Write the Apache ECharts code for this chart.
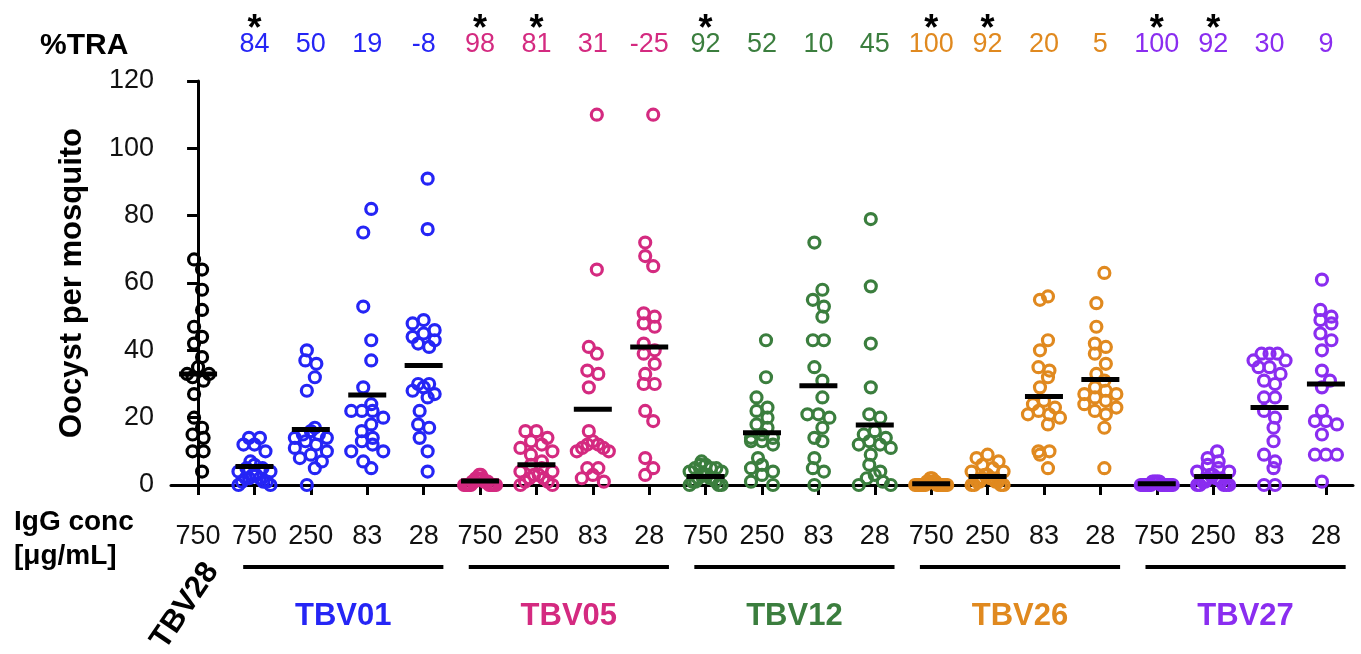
<!DOCTYPE html>
<html><head><meta charset="utf-8">
<script src="https://cdn.jsdelivr.net/npm/echarts@6/dist/echarts.min.js"></script>
<style>html,body{margin:0;padding:0;background:#fff}#c{width:1361px;height:654px}</style>
</head><body><div id="c"></div>
<script>
// ---------- data ----------
const concLabels = ['750','750','250','83','28','750','250','83','28','750','250','83','28','750','250','83','28','750','250','83','28'];
const groupNames = ['TBV28','TBV01','TBV05','TBV12','TBV26','TBV27'];
const groupColors = ['#000000','#2525f5','#d42a80','#3b7e3e','#e0891f','#8a2df0'];
const groupOf = [0,1,1,1,1,2,2,2,2,3,3,3,3,4,4,4,4,5,5,5,5];
const traValues = [null,84,50,19,-8,98,81,31,-25,92,52,10,45,100,92,20,5,100,92,30,9];
const significant = [0,1,0,0,0,1,1,0,0,1,0,0,0,1,1,0,0,1,1,0,0];

const tbv28 = [
  [67,64,58,52,47,44,42,38,35,33,33,32,31,27,20,17,15,14,10,10,4]
];
const tbv01 = [
  [14,14,12,12,10,7,6,5,5,4,4,3,3,2,2,2,1,1,1,0,0],
  [40,37,36,32,28,17,16,15,15,14,14,13,12,11,10,9,8,7,5,0],
  [82,75,53,43,37,29,24,22,22,22,20,18,16,14,13,12,10,10,7,5],
  [91,76,49,48,46,45,44,43,42,41,30,30,29,28,27,26,22,18,17,14,10,4]
];
const tbv05 = [
  [3,3,2,2,2,1,1,1,1,1,0,0,0,0,0,0,0,0,0,0],
  [16,16,14,13,12,11,10,9,7,6,5,4,4,3,3,2,2,1,1,0,0],
  [110,64,41,39,34,33,29,16,13,12,12,11,11,10,10,5,5,3,2,1],
  [110,72,68,65,51,50,48,47,42,40,39,36,33,30,30,22,19,8,5,3]
];
const tbv12 = [
  [7,6,6,5,5,5,4,4,3,3,3,2,2,2,1,1,1,0,0,0],
  [43,32,26,23,22,20,18,17,15,14,14,13,13,12,8,6,5,4,3,1,0],
  [72,58,55,53,50,43,43,35,31,26,21,21,20,17,14,13,8,5,4,0],
  [79,59,42,29,21,20,16,15,14,13,12,12,11,9,6,4,3,2,1,0,0]
];
const tbv26 = [
  [2,2,1,1,1,1,0,0,0,0,0,0,0,0,0,0,0,0,0,0],
  [9,8,7,6,5,4,4,3,3,2,2,2,1,1,1,1,0,0,0,0],
  [56,55,43,40,35,34,32,29,25,24,23,22,21,21,20,18,10,10,9,5],
  [63,54,47,42,41,39,36,33,31,29,28,27,27,26,25,24,23,22,21,17,5]
];
const tbv27 = [
  [1,1,1,1,1,0,0,0,0,0,0,0,0,0,0,0,0,0,0,0],
  [10,8,7,6,5,4,4,3,3,2,2,2,1,1,1,0,0,0,0,0],
  [39,39,39,37,37,35,35,33,31,30,26,26,22,20,17,13,9,7,5,0,0],
  [61,52,50,49,48,45,43,40,34,31,29,22,19,19,18,15,9,9,9,1]
];
const meanValues = [33,5.5,16.5,26.7,35.5,1.2,6,22.5,41,2.5,15.5,29.5,17.8,0.4,2.5,26.3,31.3,0.4,2.5,23,30];

// ---------- layout ----------
const FONT = '"Liberation Sans", Arial, Helvetica, sans-serif';
const GL = 171, GR = 8, GT = 81, GB = 169, W = 1361, H = 654;
const XMIN = -0.48, XMAX = 20.48;
const pxX = (W - GL - GR) / (XMAX - XMIN);
const pxY = (H - GT - GB) / 120;

// scatter-dot-plot layout: points binned into rows; rows filled centre-out (deterministic)
function swarm(values) {
  const ROW = 11, GAP = 11, HALF = 16;
  const rows = {};
  values.forEach((v, k) => {
    const b = Math.floor(v * pxY / ROW);
    (rows[b] = rows[b] || []).push(k);
  });
  const offs = new Array(values.length).fill(0);
  Object.keys(rows).forEach(bk => {
    const idx = rows[bk].slice().sort((a, b) => values[b] - values[a]);
    const n = idx.length;
    if (n === 1) { offs[idx[0]] = ((+bk) % 2 ? 4 : -4) / pxX; return; }
    const step = Math.min(GAP, 2 * HALF / (n - 1));
    const slots = [];
    for (let j = 0; j < n; j++) slots.push((j - (n - 1) / 2) * step);
    slots.sort((a, b) => Math.abs(a) - Math.abs(b) || a - b);
    idx.forEach((k, j) => { offs[k] = slots[j] / pxX; });
  });
  return offs;
}

const allGroups = [tbv28, tbv01, tbv05, tbv12, tbv26, tbv27];
const series = [];
let cat = 0;
allGroups.forEach((g, gi) => {
  const data = [];
  g.forEach(vals => {
    const offs = swarm(vals);
    vals.forEach((v, k) => data.push([cat + offs[k], v]));
    cat++;
  });
  series.push({
    type: 'scatter', name: groupNames[gi], data,
    symbol: 'circle', symbolSize: 11,
    itemStyle: { color: 'rgba(255,255,255,0)', borderColor: groupColors[gi], borderWidth: 3.2, opacity: 1 },
    emphasis: { disabled: true }, silent: true, z: 2
  });
});
series.push({
  type: 'scatter', name: 'mean', data: meanValues.map((m, i) => [i, m]),
  symbol: 'rect', symbolSize: [38, 5], itemStyle: { color: '#000', opacity: 1 },
  emphasis: { disabled: true }, silent: true, z: 5
});

const chart = echarts.init(document.getElementById('c'), null, { renderer: 'canvas' });
chart.setOption({
  backgroundColor: '#fff',
  animation: false,
  grid: { left: GL, right: GR, top: GT, bottom: GB },
  xAxis: {
    type: 'value', min: XMIN, max: XMAX,
    splitLine: { show: false },
    axisLine: { show: true, onZero: false, lineStyle: { color: '#000', width: 3 } },
    axisTick: { show: true, customValues: concLabels.map((_, i) => i), length: 10, lineStyle: { color: '#000', width: 3 } },
    axisLabel: { show: true, customValues: concLabels.map((_, i) => i), formatter: v => concLabels[Math.round(v)], margin: 38, fontSize: 27, color: '#111', fontFamily: FONT }
  },
  yAxis: {
    type: 'value', min: 0, max: 120, interval: 20,
    splitLine: { show: false },
    axisLine: { show: true, lineStyle: { color: '#000', width: 3 } },
    axisTick: { show: true, length: 11, lineStyle: { color: '#000', width: 3 } },
    axisLabel: { margin: 17, fontSize: 27, color: '#111', fontFamily: FONT }
  },
  series
});

const px = v => chart.convertToPixel({ xAxisIndex: 0 }, v);
const graphics = [];
traValues.forEach((t, i) => {
  if (t === null) return;
  graphics.push({ type: 'text', x: px(i), y: 45, style: { text: String(t), fill: groupColors[groupOf[i]], font: '27px ' + FONT, textAlign: 'center', textVerticalAlign: 'middle' } });
  if (significant[i]) {
    graphics.push({ type: 'text', x: px(i), y: 12, style: { text: '*', fill: '#000', font: 'bold 36px ' + FONT, textAlign: 'center', textVerticalAlign: 'top' } });
  }
});
graphics.push({ type: 'text', x: 40, y: 46, style: { text: '%TRA', fill: '#000', font: 'bold 30px ' + FONT, textAlign: 'left', textVerticalAlign: 'middle' } });
graphics.push({ type: 'text', x: 72, y: 283, rotation: Math.PI / 2, style: { text: 'Oocyst per mosquito', fill: '#000', font: 'bold 31px ' + FONT, textAlign: 'center', textVerticalAlign: 'middle' } });
graphics.push({ type: 'text', x: 14, y: 522, style: { text: 'IgG conc', fill: '#000', font: 'bold 28px ' + FONT, textAlign: 'left', textVerticalAlign: 'middle' } });
graphics.push({ type: 'text', x: 14, y: 556, style: { text: '[\u03bcg/mL]', fill: '#000', font: 'bold 28px ' + FONT, textAlign: 'left', textVerticalAlign: 'middle' } });
graphics.push({ type: 'text', x: 185, y: 606, rotation: 56 * Math.PI / 180, style: { text: groupNames[0], fill: '#000', font: 'bold 31px ' + FONT, textAlign: 'center', textVerticalAlign: 'middle' } });
for (let g = 1; g < groupNames.length; g++) {
  const c0 = 1 + (g - 1) * 4, c1 = c0 + 3;
  const x0 = px(c0 - 0.2), x1 = px(c1 + 0.35);
  graphics.push({ type: 'line', shape: { x1: x0, y1: 567, x2: x1, y2: 567 }, style: { stroke: '#000', lineWidth: 4 } });
  graphics.push({ type: 'text', x: (x0 + x1) / 2, y: 616, style: { text: groupNames[g], fill: groupColors[g], font: 'bold 31px ' + FONT, textAlign: 'center', textVerticalAlign: 'middle' } });
}
chart.setOption({ graphic: graphics });
</script>
</body></html>
